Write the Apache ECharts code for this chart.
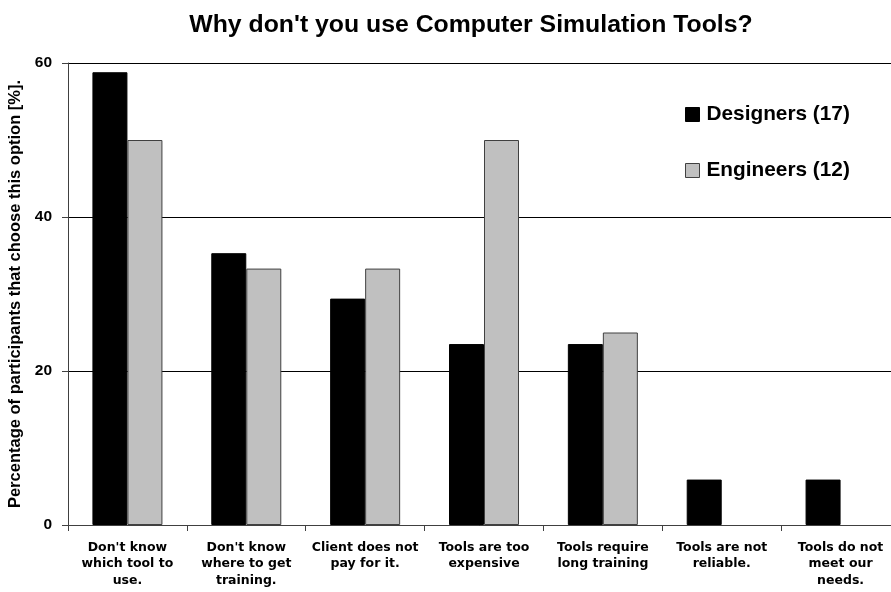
<!DOCTYPE html>
<html>
<head>
<meta charset="utf-8">
<script src="https://cdn.jsdelivr.net/npm/echarts@6/dist/echarts.min.js"></script>
<style>
  html, body { margin: 0; padding: 0; background: #fff; }
  #chart { width: 891px; height: 592px; }
</style>
</head>
<body>
<div id="chart"></div>
<script>
// Survey answers: reasons for not using computer simulation tools
const categories = [
  "Don't know\nwhich tool to\nuse.",
  "Don't know\nwhere to get\ntraining.",
  "Client does not\npay for it.",
  "Tools are too\nexpensive",
  "Tools require\nlong training",
  "Tools are not\nreliable.",
  "Tools do not\nmeet our\nneeds."
];
// Share of respondents choosing each option [%]
const designers = [58.8, 35.3, 29.4, 23.5, 23.5, 5.9, 5.9];
const engineers = [50.0, 33.3, 33.3, 50.0, 25.0, 0, 0];
const yTicks = [0, 20, 40, 60];

// zero-height bars get no outline so they stay invisible
function barData(values) {
  return values.map(v => (v === 0 ? { value: v, itemStyle: { borderWidth: 0 } } : v));
}

const chart = echarts.init(document.getElementById('chart'), null, { renderer: 'canvas' });

chart.setOption({
  animation: false,
  backgroundColor: '#ffffff',
  title: {
    text: "Why don't you use Computer Simulation Tools?",
    left: 466,
    top: 8,
    textAlign: 'center',
    textStyle: { fontFamily: 'Liberation Sans, Arial, sans-serif', fontWeight: 'bold', fontSize: 24.8, color: '#000' }
  },
  legend: {
    orient: 'vertical',
    left: 680,
    top: 99,
    itemGap: 35,
    itemWidth: 14,
    itemHeight: 14,
    icon: 'rect',
    textStyle: { fontFamily: 'Liberation Sans, Arial, sans-serif', fontWeight: 'bold', fontSize: 20.8, color: '#000', padding: [0, 0, 0, 2] },
    data: [
      { name: 'Designers (17)', itemStyle: { color: '#000', borderColor: '#000', borderWidth: 1 } },
      { name: 'Engineers (12)', itemStyle: { color: '#c0c0c0', borderColor: '#404040', borderWidth: 1 } }
    ]
  },
  grid: { left: 68, top: 63, width: 832, bottom: 67, outerBoundsMode: 'none' },
  xAxis: {
    type: 'category',
    data: categories,
    axisLine: { show: true, lineStyle: { color: '#404040', width: 1 } },
    axisTick: { show: true, length: 6, lineStyle: { color: '#404040' } },
    axisLabel: {
      interval: 0,
      margin: 14,
      fontFamily: 'DejaVu Sans, Verdana, sans-serif',
      fontWeight: 'bold',
      fontSize: 12.5,
      lineHeight: 16.5,
      color: '#000'
    }
  },
  yAxis: {
    type: 'value',
    min: yTicks[0],
    max: yTicks[yTicks.length - 1],
    interval: 20,
    name: 'Percentage of participants that choose this option [%].',
    nameLocation: 'middle',
    nameGap: 41,
    nameTextStyle: { fontFamily: 'Liberation Sans, Arial, sans-serif', fontWeight: 'bold', fontSize: 16.5, color: '#000' },
    axisLine: { show: true, lineStyle: { color: '#404040', width: 1 } },
    axisTick: { show: true, length: 6, lineStyle: { color: '#404040' } },
    axisLabel: {
      margin: 16,
      fontFamily: 'Liberation Sans, Arial, sans-serif',
      fontWeight: 'bold',
      fontSize: 15.5,
      color: '#000'
    },
    splitLine: { show: true, lineStyle: { color: '#000', width: 1 } }
  },
  series: [
    {
      name: 'Designers (17)',
      type: 'bar',
      data: barData(designers),
      barWidth: 35,
      barGap: '0%',
      itemStyle: { color: '#000', borderColor: '#000', borderWidth: 1 }
    },
    {
      name: 'Engineers (12)',
      type: 'bar',
      data: barData(engineers),
      barWidth: 35,
      barGap: '0%',
      itemStyle: { color: '#c0c0c0', borderColor: '#404040', borderWidth: 1 }
    }
  ]
});
</script>
</body>
</html>
